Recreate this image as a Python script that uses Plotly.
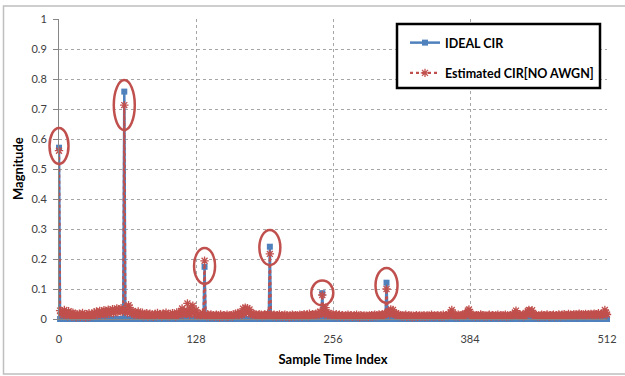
import plotly.graph_objects as go

# ---------------- data ----------------
n_samples = 513  # sample index 0..512
sample_index = list(range(n_samples))

ideal_peak_x = [0, 61, 136, 197, 246, 306]
ideal_peak_y = [0.571, 0.758, 0.174, 0.241, 0.086, 0.121]

est_peak_x = [0, 61, 136, 197, 246, 306]
est_peak_y = [0.561, 0.713, 0.194, 0.217, 0.080, 0.100]

# estimated-CIR floor (thousandths)
est_noise_milli = [
    0, 28, 18, 24, 12, 30, 16, 22, 9, 26, 14, 19, 8, 21, 11, 17,
    6, 15, 10, 18, 7, 13, 20, 9, 14, 5, 16, 11, 19, 8, 12, 17,
    10, 22, 14, 25, 12, 20, 27, 15, 24, 18, 29, 13, 26, 21, 31, 17,
    28, 23, 33, 19, 30, 25, 35, 22, 32, 27, 36, 24, 30, 0, 26, 33,
    20, 46, 38, 24, 18, 27, 15, 22, 12, 19, 25, 11, 17, 14, 21, 9,
    16, 12, 19, 8, 14, 18, 10, 15, 7, 13, 17, 9, 20, 11, 14, 16,
    8, 18, 12, 15, 21, 10, 14, 9, 17, 13, 19, 11, 16, 8, 22, 14,
    12, 18, 24, 35, 15, 28, 20, 17, 52, 25, 14, 40, 19, 44, 22, 16,
    30, 12, 18, 10, 15, 13, 20, 11, 0, 14, 9, 16, 12, 8, 15, 10,
    13, 7, 11, 14, 9, 12, 6, 15, 10, 8, 13, 11, 9, 14, 7, 12,
    10, 13, 8, 15, 11, 18, 12, 20, 14, 16, 22, 13, 34, 18, 38, 25,
    36, 20, 32, 16, 19, 14, 17, 12, 15, 10, 13, 16, 11, 14, 9, 12,
    15, 10, 13, 18, 11, 0, 16, 12, 9, 14, 11, 8, 13, 10, 15, 9,
    12, 7, 11, 14, 8, 13, 10, 6, 12, 9, 14, 11, 8, 13, 10, 12,
    9, 14, 11, 8, 13, 16, 10, 12, 15, 9, 18, 13, 11, 16, 12, 14,
    17, 13, 20, 15, 24, 18, 0, 30, 16, 38, 22, 14, 19, 12, 17, 11,
    15, 10, 13, 16, 9, 12, 14, 8, 11, 13, 7, 10, 12, 9, 14, 8,
    11, 13, 7, 10, 12, 9, 14, 8, 11, 6, 13, 10, 9, 12, 8, 11,
    10, 7, 12, 9, 13, 8, 11, 14, 9, 12, 10, 15, 11, 13, 16, 12,
    14, 18, 0, 20, 28, 15, 32, 22, 30, 17, 14, 19, 12, 16, 10, 13,
    9, 12, 8, 11, 14, 7, 10, 13, 9, 12, 6, 11, 8, 10, 13, 7,
    10, 12, 8, 11, 9, 13, 7, 10, 12, 8, 11, 9, 14, 10, 8, 12,
    9, 11, 13, 8, 10, 12, 7, 14, 9, 11, 13, 10, 15, 12, 22, 30,
    18, 12, 9, 13, 10, 14, 8, 11, 12, 15, 10, 13, 16, 20, 28, 32,
    17, 12, 9, 14, 11, 8, 13, 10, 12, 9, 15, 11, 13, 8, 12, 10,
    9, 12, 14, 10, 8, 13, 11, 9, 12, 10, 14, 8, 11, 13, 9, 12,
    10, 14, 8, 12, 9, 11, 13, 10, 15, 12, 22, 28, 16, 12, 10, 14,
    11, 13, 9, 12, 20, 14, 26, 30, 18, 24, 29, 15, 12, 10, 13, 9,
    12, 8, 11, 14, 10, 13, 9, 12, 15, 11, 8, 13, 10, 12, 14, 9,
    11, 13, 10, 15, 12, 9, 14, 11, 16, 10, 13, 12, 17, 11, 14, 10,
    13, 16, 12, 15, 10, 14, 18, 12, 16, 11, 15, 13, 17, 12, 14, 16,
    13, 17, 11, 15, 18, 12, 16, 14, 19, 13, 15, 17, 12, 18, 30, 20,
    15,
]

# highlighted peaks (ellipses): centre value and size in pixels
ring_x = [0, 61, 136, 197, 246, 306]
ring_y = [0.577, 0.713, 0.177, 0.238, 0.087, 0.112]
ring_w = [19, 21, 21, 21, 22, 22]
ring_h = [36, 50, 36, 35, 25, 35]

x_range = [0, 512]
y_range = [0, 1]
x_tick_vals = [0, 128, 256, 384, 512]
y_tick_vals = [0, 0.1, 0.2, 0.3, 0.4, 0.5, 0.6, 0.7, 0.8, 0.9, 1]

# ---------------- build series ----------------
ideal = [0.0] * n_samples
for px, py in zip(ideal_peak_x, ideal_peak_y):
    ideal[px] = py
est = [v / 1000.0 for v in est_noise_milli]
for px, py in zip(est_peak_x, est_peak_y):
    est[px] = py

BLUE = "#4F81BD"
RED = "#C0504D"
FONT = "Lato"

# plot-area geometry in pixels
W, H = 625, 376
ML, MR, MT, MB = 59, 18, 19, 57
PW, PH = W - ML - MR, H - MT - MB


def px_to_paper_x(p):
    return (p - ML) / PW


def px_to_paper_y(p):
    return (H - MB - p) / PH


fig = go.Figure()
fig.add_trace(go.Scatter(
    x=sample_index, y=ideal, mode="lines+markers", name="IDEAL CIR",
    line=dict(color=BLUE, width=2.5),
    marker=dict(symbol="square", size=6, color=BLUE),
    cliponaxis=False, legendgroup="a",
))
fig.add_trace(go.Scatter(
    x=sample_index, y=est, mode="lines+markers", name="Estimated CIR[NO AWGN]",
    line=dict(color=RED, width=2.2, dash="dot"),
    marker=dict(symbol="asterisk-open", size=7, color=RED,
                line=dict(color=RED, width=1.3)),
    cliponaxis=False, legendgroup="b",
))

shapes = []
for cx, cy, w, h in zip(ring_x, ring_y, ring_w, ring_h):
    shapes.append(dict(
        type="circle", xref="paper", yref="paper",
        xsizemode="pixel", ysizemode="pixel",
        xanchor=(cx - x_range[0]) / (x_range[1] - x_range[0]),
        yanchor=(cy - y_range[0]) / (y_range[1] - y_range[0]),
        x0=-w / 2, x1=w / 2, y0=-h / 2, y1=h / 2,
        line=dict(color=RED, width=2.5), layer="above",
    ))
# legend frame
shapes.append(dict(type="rect", xref="paper", yref="paper",
                   x0=px_to_paper_x(397), x1=px_to_paper_x(600),
                   y0=px_to_paper_y(88), y1=px_to_paper_y(24),
                   line=dict(color="black", width=2.5),
                   fillcolor="white", layer="above"))
# outer chart border
shapes.append(dict(type="rect", xref="paper", yref="paper",
                   x0=px_to_paper_x(3.5), x1=px_to_paper_x(628),
                   y0=px_to_paper_y(374), y1=px_to_paper_y(6),
                   line=dict(color="#BFBFBF", width=1.5), layer="below"))

title_font = dict(family=FONT, size=13, color="black", weight="bold")

fig.update_layout(
    width=W, height=H,
    margin=dict(l=ML, r=MR, t=MT, b=MB),
    paper_bgcolor="white", plot_bgcolor="white",
    font=dict(family=FONT, size=11, color="#404040"),
    showlegend=True,
    legend=dict(
        x=px_to_paper_x(405), y=px_to_paper_y(28), xanchor="left", yanchor="top",
        bgcolor="rgba(0,0,0,0)", borderwidth=0,
        font=dict(family=FONT, size=12.5, color="black", weight="bold"),
        tracegroupgap=11, itemwidth=30,
    ),
    shapes=shapes,
    annotations=[dict(
        text="Magnitude", textangle=-90, showarrow=False,
        xref="paper", yref="paper", x=px_to_paper_x(18), y=0.5,
        xanchor="center", yanchor="middle", font=title_font,
    )],
    xaxis=dict(
        range=x_range, tickvals=x_tick_vals, ticktext=[str(v) for v in x_tick_vals],
        showgrid=True, gridcolor="#A6A6A6", griddash="dot", gridwidth=1,
        showline=True, linecolor="#868686", linewidth=1,
        ticks="", ticklabelstandoff=10, zeroline=False, automargin=False,
        title=dict(text="Sample Time Index", standoff=10, font=title_font),
    ),
    yaxis=dict(
        range=y_range, tickvals=y_tick_vals, ticktext=[("%g" % v) for v in y_tick_vals],
        showgrid=True, gridcolor="#A6A6A6", griddash="dot", gridwidth=1,
        showline=True, linecolor="#868686", linewidth=1,
        ticks="outside", ticklen=5, tickcolor="#868686", ticklabelstandoff=4,
        zeroline=False, automargin=False,
    ),
)

fig.write_html("out.html")
